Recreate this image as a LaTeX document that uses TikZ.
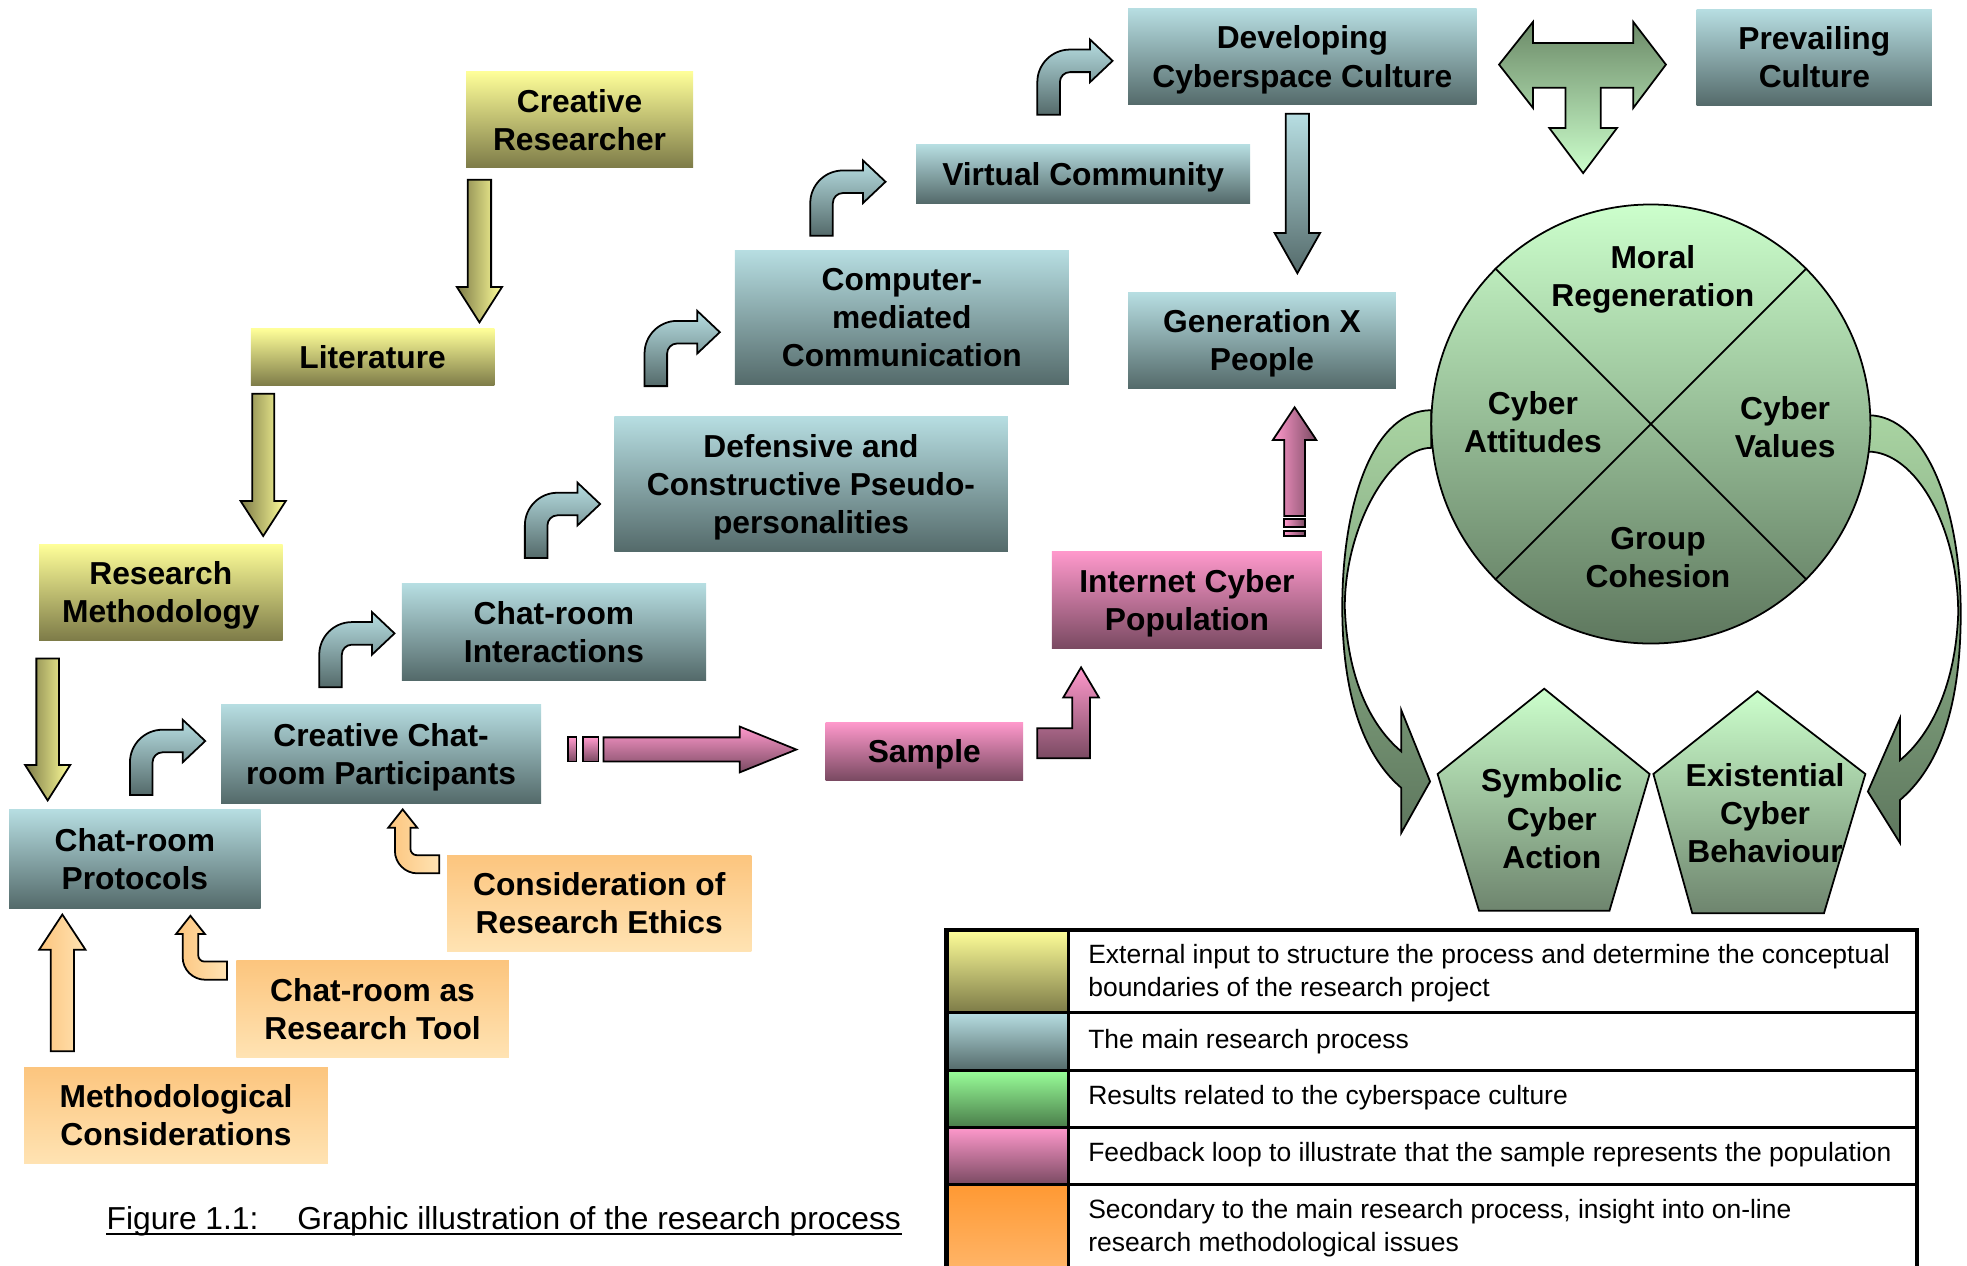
\documentclass[tikz,border=0pt]{standalone}
\usepackage{fontspec}
\setmainfont{Liberation Sans}
\usetikzlibrary{calc}

\definecolor{ylwtop}{HTML}{FFFF99}
\definecolor{ylwbot}{HTML}{7D7B48}
\definecolor{tealtop}{HTML}{B7DEE2}
\definecolor{tealbot}{HTML}{546A6A}
\definecolor{pinktop}{HTML}{FF99CC}
\definecolor{pinkbot}{HTML}{7A4A62}
\definecolor{orgtop}{HTML}{FCC57E}
\definecolor{orgbot}{HTML}{FFE3B3}
\definecolor{grntop}{HTML}{CCFFCC}
\definecolor{grnbot}{HTML}{5E775E}
\definecolor{grnband}{HTML}{A9D4A2}
\definecolor{grndark}{HTML}{6C8A68}
\definecolor{lgtop}{HTML}{99FF99}
\definecolor{lgbot}{HTML}{4A7D4A}
\definecolor{lotop}{HTML}{FF9933}
\definecolor{lobot}{HTML}{FFB86E}

\tikzset{
  txt/.style={inner sep=0pt, align=center, text depth=0pt, font=\bfseries\fontsize{9}{10.8}\selectfont},
  sz/.style 2 args={minimum width=#1*0.0125cm, minimum height=#2*0.0125cm},
  ybox/.style={txt, top color=ylwtop, bottom color=ylwbot},
  tbox/.style={txt, top color=tealtop, bottom color=tealbot},
  pbox/.style={txt, top color=pinktop, bottom color=pinkbot},
  obox/.style={txt, top color=orgtop, bottom color=orgbot},
  arr/.style={draw=black, line width=0.5pt, line join=miter},
  yarr/.style={arr, left color=ylwbot, right color=ylwtop},
  tarr/.style={arr, top color=tealtop, bottom color=tealbot},
  parr/.style={arr, top color=pinktop, bottom color=pinkbot},
  oarr/.style={arr, left color=orgtop, right color=orgbot},
  garr/.style={arr, top color=grnband, bottom color=grnbot},
  legtxt/.style={anchor=west, inner sep=0pt, align=left, font=\fontsize{7.5}{9.4}\selectfont},
  pics/bent/.style={code={
    \path[pic actions] (0,0) -- (0,26) arc[start angle=180, end angle=90, radius=26]
      -- (42,52) -- (42,60) -- (60,43) -- (42,26) -- (42,34) -- (26,34)
      arc[start angle=90, end angle=180, radius=8] -- (18,0) -- cycle;}},
  pics/curl/.style={code={
    \path[pic actions] (0,0) -- (-17.4,0) arc[start angle=270, end angle=180, radius=18]
      -- (-35.4,36.4) -- (-40.7,36.4) -- (-29.2,51) -- (-17.6,36.4) -- (-23,36.4) -- (-23,19.5)
      arc[start angle=180, end angle=270, radius=5] -- (0,14.5) -- cycle;}}
}

% x, tail y, head y, tip y, half shaft, half head
\newcommand{\varrow}[7][]{%
  \path[#1] ({#2-#6},#3) -- ({#2+#6},#3) -- ({#2+#6},#4) -- ({#2+#7},#4) -- (#2,#5)
    -- ({#2-#7},#4) -- ({#2-#6},#4) -- cycle;}

\begin{document}
\begin{tikzpicture}[x=0.0125cm, y=0.0125cm]
    \clip (0,0) rectangle (1568,-1009);

    % external input
    \node (creres) at (462,-95.4) [ybox, sz={181}{77}] {Creative\\Researcher};
    \node (lit) at (297,-284.8) [ybox, sz={194}{45.5}] {Literature};
    \node (resmeth) at (128.2,-472.2) [ybox, sz={194}{77}] {Research\\Methodology};
    \varrow[yarr]{382.2}{-143.3}{-228.8}{-257}{9.3}{18}
    \varrow[yarr]{209.8}{-313.8}{-399.4}{-427.3}{8.8}{18}
    \varrow[yarr]{38}{-525}{-609.8}{-638.1}{9}{18}

    % main process
    \node (protocols) at (107.5,-684.6) [tbox, sz={200.5}{79}] {Chat-room\\Protocols};
    \node (particip) at (303.8,-600.7) [tbox, sz={255}{79}] {Creative Chat-\\room Participants};
    \node (interact) at (441.6,-503.6) [tbox, sz={242.5}{77}] {Chat-room\\Interactions};
    \node (pseudo) at (646.5,-385.7) [tbox, sz={313.7}{108}] {Defensive and\\Constructive Pseudo-\\personalities};
    \node (cmc) at (718.9,-253) [tbox, sz={266.3}{107.4}] {Computer-\\mediated\\Communication};
    \node (virtual) at (863.4,-138.5) [tbox, sz={266.3}{47}] {Virtual Community};
    \node (develop) at (1038.2,-45) [tbox, sz={277.7}{77.2}] {Developing\\Cyberspace Culture};
    \node (genx) at (1006,-271.3) [tbox, sz={213.5}{76.6}] {Generation X\\People};
    \node (prevail) at (1446.3,-45.7) [tbox, sz={187.5}{77}] {Prevailing\\Culture};

    \foreach \bx/\by in {103.6/633.7, 254.5/547.9, 418.4/444.8, 513.8/307.8, 645.9/187.9, 826.9/91.5}
      \pic[tarr] at (\bx,-\by) {bent};
    \varrow[tarr]{1034.2}{-90.7}{-185.8}{-217.8}{9.2}{18.1}

    % feedback loop
    \node (sample) at (736.8,-598.7) [pbox, sz={157.5}{46.3}] {Sample};
    \node (population) at (946.2,-478.1) [pbox, sz={215.2}{77.2}] {Internet Cyber\\Population};
    \path[parr] (452.7,-587.8) rectangle (459.5,-607);
    \path[parr] (464.8,-587.8) rectangle (477,-607);
    \path[parr] (481,-587.8) -- (589.7,-587.8) -- (589.7,-579.2) -- (634.8,-597.5)
      -- (589.7,-615.7) -- (589.7,-607) -- (481,-607) -- cycle;
    \path[parr] (826.9,-604.5) -- (868.9,-604.5) -- (868.9,-556) -- (876,-556) -- (861.8,-532)
      -- (847.6,-556) -- (854.8,-556) -- (854.8,-580.6) -- (826.9,-580.6) -- cycle;
    \varrow[arr, left color=pinktop, right color=pinkbot]{1032}{-411.3}{-350.7}{-324.7}{8.3}{17.3}
    \path[arr, left color=pinktop, right color=pinkbot] (1023.8,-413.7) rectangle (1040.3,-420.3);
    \path[arr, left color=pinktop, right color=pinkbot] (1023.8,-423.5) rectangle (1040.3,-427.3);

    % methodological issues
    \node (ethics) at (477.7,-720.1) [obox, sz={242.5}{77}] {Consideration of\\Research Ethics};
    \node (tool) at (297,-804.5) [obox, sz={217.3}{77}] {Chat-room as\\Research Tool};
    \node (methcons) at (140.3,-889.1) [obox, sz={242}{77}] {Methodological\\Considerations};
    \varrow[oarr]{49.7}{-838}{-757}{-729}{9.3}{18.4}
    \pic[oarr] at (181,-781) {curl};
    \pic[oarr] at (350.2,-696.2) {curl};

    % cyberspace culture
    \path[arr, top color=grndark, bottom color=grntop] (1195,-51.5) -- (1222,-17.5) -- (1222,-34.3)
      -- (1302,-34.3) -- (1302,-17.5) -- (1328,-51.5) -- (1302,-86) -- (1302,-70) -- (1276,-70)
      -- (1276,-102) -- (1289,-102) -- (1262,-138) -- (1235,-102) -- (1248,-102) -- (1248,-70)
      -- (1222,-70) -- (1222,-86) -- cycle;

    \path[garr] (1141,-327) .. controls (1095,-327) and (1070,-400) .. (1070,-484)
      .. controls (1070,-560) and (1090,-605) .. (1117,-628) -- (1117,-664) -- (1140,-623)
      -- (1117,-566) -- (1117,-599) .. controls (1092,-578) and (1074,-540) .. (1072,-484)
      .. controls (1072,-420) and (1108,-357) .. (1141,-357) -- cycle;
    \path[garr] (1489,-331) .. controls (1535,-331) and (1563,-405) .. (1563,-489)
      .. controls (1563,-565) and (1545,-612) .. (1514.6,-637.7) -- (1514.6,-672) -- (1489,-631)
      -- (1514.6,-572.5) -- (1514.6,-606) .. controls (1540,-585) and (1559,-545) .. (1561,-489)
      .. controls (1561,-420) and (1527,-360) .. (1489,-360) -- cycle;

    \node (circ) at (1316,-338) [circle, draw, line width=0.5pt, inner sep=0pt,
      minimum size=350*0.0125cm, top color=grntop, bottom color=grnbot] {};
    \draw[line width=0.5pt] (circ.135) -- (circ.-45);
    \draw[line width=0.5pt] (circ.45) -- (circ.-135);
    \node (moral) at (1317.6,-219.7) [txt] {Moral\\Regeneration};
    \node (attitudes) at (1222,-336.4) [txt] {Cyber\\Attitudes};
    \node (values) at (1423,-340.4) [txt] {Cyber\\Values};
    \node (cohesion) at (1321.7,-444) [txt] {Group\\Cohesion};

    \path[arr, top color=grntop, bottom color=grnbot!90!white] (1231,-549) -- (1315,-617)
      -- (1283,-726) -- (1179,-726) -- (1146,-617) -- cycle;
    \path[arr, top color=grntop, bottom color=grnbot!90!white] (1401,-551) -- (1487,-617)
      -- (1454,-728) -- (1349,-728) -- (1318,-617) -- cycle;
    \node (action) at (1237,-652.5) [txt] {Symbolic\\Cyber\\Action};
    \node (behaviour) at (1407,-648) [txt] {Existential\\Cyber\\Behaviour};

    % legend
    \foreach \ct/\cb/\ya/\yb in {ylwtop/ylwbot/741.3/807.1, tealtop/tealbot/807.1/853.3,
        lgtop/lgbot/853.3/898.6, pinktop/pinkbot/898.6/944.2, lotop/lobot/944.2/1020}
      \path[top color=\ct, bottom color=\cb] (754.6,-\ya) rectangle (851.7,-\yb);
    \foreach \ly in {807.1, 853.3, 898.6, 944.2}
      \draw[line width=1pt] (754.6,-\ly) -- (1528,-\ly);
    \draw[line width=1pt] (851.7,-741.3) -- (851.7,-1020);
    \draw[line width=1.3pt] (754.6,-1020) -- (754.6,-741.3) -- (1528,-741.3) -- (1528,-1020);
    \node (leg1) at (867,-775.7) [legtxt] {External input to structure the process and determine the conceptual\\boundaries of the research project};
    \node (leg2) at (867,-830) [legtxt] {The main research process};
    \node (leg3) at (867,-875.3) [legtxt] {Results related to the cyberspace culture};
    \node (leg4) at (867,-920.3) [legtxt] {Feedback loop to illustrate that the sample represents the population};
    \node (leg5) at (867,-979.3) [legtxt] {Secondary to the main research process, insight into on-line\\research methodological issues};

    \node (caption) at (84.5,-980) [anchor=base west, inner sep=0pt, font=\fontsize{9}{10.8}\selectfont]
      {Figure 1.1:\hspace{11pt}Graphic illustration of the research process};
    \draw[line width=0.6pt] ($(caption.base west)+(0,-3.5)$) -- ($(caption.base east)+(0,-3.5)$);
\end{tikzpicture}
\end{document}
